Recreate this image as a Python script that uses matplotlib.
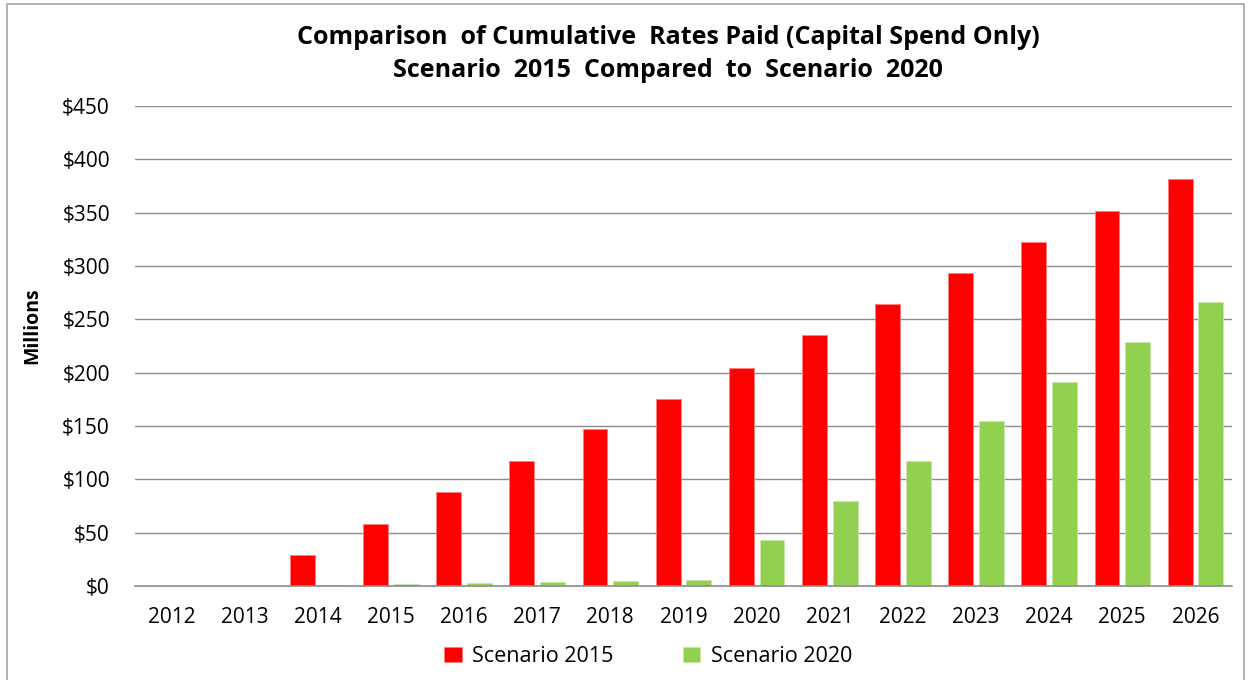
import matplotlib
matplotlib.use("Agg")
import matplotlib.pyplot as plt
import numpy as np
from matplotlib.patches import Rectangle

plt.rcParams['font.family'] = ['Open Sans', 'DejaVu Sans']

years = ['2012', '2013', '2014', '2015', '2016', '2017', '2018', '2019',
         '2020', '2021', '2022', '2023', '2024', '2025', '2026']
scenario_2015 = [0, 0, 28.8, 58.1, 88.0, 117.5, 147.0, 175.5,
                 204.6, 235.0, 264.3, 293.5, 322.6, 351.6, 381.2]
scenario_2020 = [0, 0, 0.8, 1.8, 2.9, 3.8, 4.8, 5.7,
                 42.7, 80.0, 117.0, 154.6, 191.7, 229.0, 266.3]
y_ticks = [0, 50, 100, 150, 200, 250, 300, 350, 400, 450]

fig = plt.figure(figsize=(12.49, 6.80), dpi=100)
ax = fig.add_axes([0.108, 0.1382, 0.8784, 0.7059])

x = np.arange(len(years))
w = 0.34
off = 0.21
ax.bar(x - off, scenario_2015, width=w, color='#FF0000', edgecolor='#FF8080',
       linewidth=0.6, label='Scenario 2015', zorder=3)
ax.bar(x + off, scenario_2020, width=w, color='#92D050', edgecolor='#C8E6A8',
       linewidth=0.6, label='Scenario 2020', zorder=3)

ax.set_xlim(-0.5, len(years) - 0.5)
ax.set_ylim(0, 450)
ax.set_yticks(y_ticks)
ax.set_yticklabels([f'${v}' for v in y_ticks])
ax.set_xticks(x)
ax.set_xticklabels(years)
ax.tick_params(axis='both', length=0, labelsize=15, colors='#000000')
ax.tick_params(axis='y', pad=18)
ax.tick_params(axis='x', pad=15)

ax.grid(axis='y', color='#8C8C8C', linewidth=1.0, zorder=0)
for side in ['top', 'right', 'left']:
    ax.spines[side].set_visible(False)
ax.spines['bottom'].set_color('#8C8C8C')
ax.spines['bottom'].set_linewidth(1.2)
ax.spines['bottom'].set_zorder(4)

ax.set_ylabel('Millions', fontsize=14, fontweight='bold')
ax.yaxis.set_label_coords(-0.084, 0.542)

fig.text(0.535, 0.945, 'Comparison  of Cumulative  Rates Paid (Capital Spend Only)',
         ha='center', va='center', fontsize=18, fontweight='bold')
fig.text(0.535, 0.897, 'Scenario  2015  Compared  to  Scenario  2020',
         ha='center', va='center', fontsize=18, fontweight='bold')

leg = fig.legend(loc='center', bbox_to_anchor=(0.519, 0.035), ncol=2,
                 frameon=False, fontsize=15.5, handlelength=0.8,
                 handleheight=0.7, columnspacing=3.2, handletextpad=0.5)

# chart border
fig.add_artist(Rectangle((7 / 1249, -0.01), (1244 - 7) / 1249, 1 - 4 / 680 + 0.01,
                         transform=fig.transFigure, fill=False,
                         edgecolor='#A6A6A6', linewidth=1.2))

fig.savefig('out.png', dpi=100, facecolor='white')
